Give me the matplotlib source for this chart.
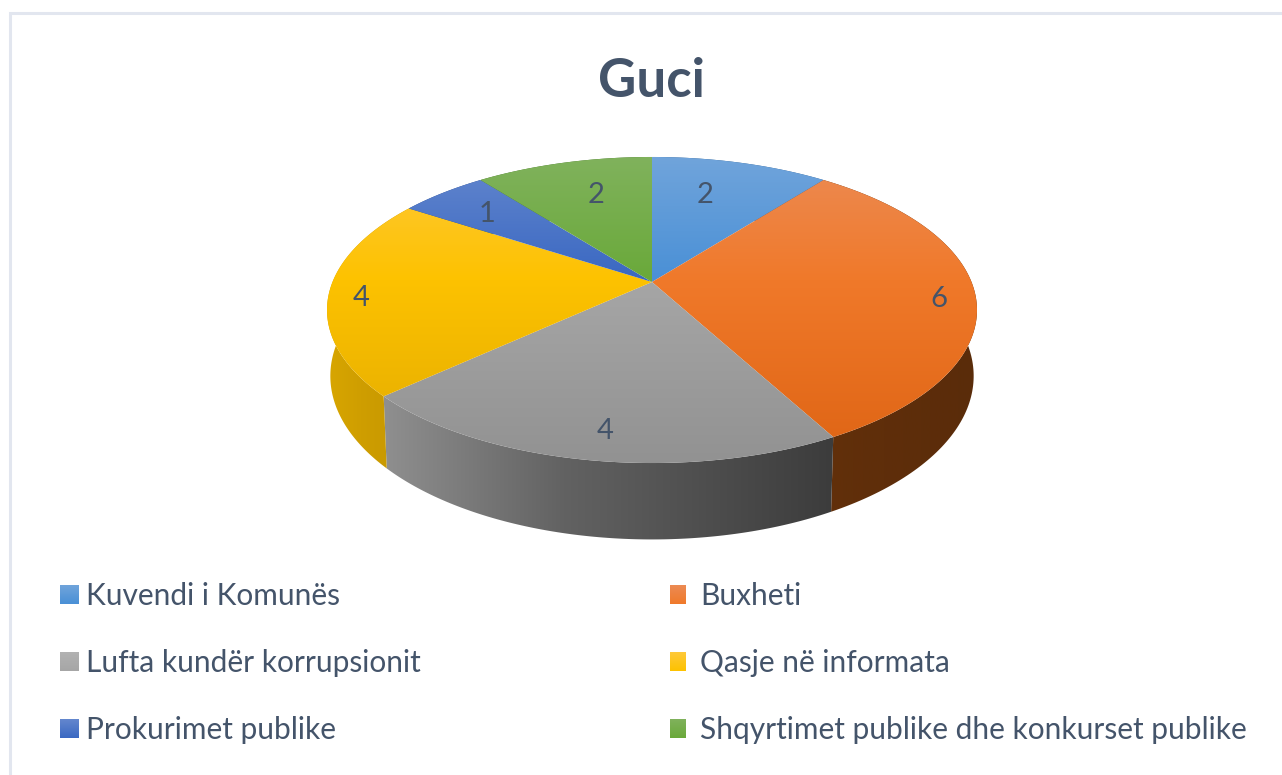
# Guci - 3D pie with perspective, drawn on an axes in pixel coordinates
import matplotlib
matplotlib.use("Agg")
import matplotlib.pyplot as plt
import numpy as np
from matplotlib.patches import Polygon

categories = ["Kuvendi i Komunës", "Buxheti", "Lufta kundër korrupsionit",
              "Qasje në informata", "Prokurimet publike",
              "Shqyrtimet publike dhe konkurset publike"]
values = [2, 6, 4, 4, 1, 2]

# top of slice: light / mid / dark, side of slice: left / mid / right
top_light = ["#70a4db", "#ec8b54", "#b2b2b2", "#ffc93a", "#6487ce", "#80b25c"]
top_mid = ["#4a90d6", "#f0792a", "#a6a6a6", "#fdc200", "#3a68c2", "#6aa93a"]
top_dark = ["#3f80c0", "#de6414", "#929292", "#e2ab00", "#3058a8", "#5a9430"]
side_left = ["#2f5f90", "#62300a", "#8f8f8f", "#d8a600", "#2a4a88", "#44702a"]
side_mid = ["#2f5f90", "#5f2e0a", "#626262", "#cf9e00", "#2a4a88", "#44702a"]
side_right = ["#2f5f90", "#5a2c0a", "#3c3c3c", "#c49600", "#2a4a88", "#44702a"]

label_r = [0.715, 0.89, 0.85, 0.90, 0.767, 0.715]
label_dx = [-13, 0, 6, 0, 0, 10]
label_dy = [2, 6, 3, 5, 2, 2]
text_col = "#44546a"

# perspective of the disc
cx, cy = 652, 282
R, B = 319.5, 147.9
k = 0.183
drop, m = 65, 0.01


def project(a, r=1.0, z=0.0):
    u = r * np.sin(a)
    v = r * np.cos(a)
    w = 1 + k * v + m * z
    return cx + R * u / w, cy + (-B * v + drop * z) / w


def hexrgb(c):
    return np.array(matplotlib.colors.to_rgb(c))


def fill_gradient(ax, pts, stops, horizontal=False, span=None):
    # paint a gradient image and clip it to the polygon
    pts = np.asarray(pts, dtype=float)
    poly = Polygon(pts, closed=True, fc="none", ec="none", transform=ax.transData)
    ax.add_patch(poly)
    lo, hi = span if span else (pts[:, 0].min(), pts[:, 0].max())
    t = np.linspace(0, 1, 256)
    pos = np.linspace(0, 1, len(stops)) if len(stops) != 3 else np.array([0, 0.4, 1])
    rgb = np.array([hexrgb(c) for c in stops])
    img = np.stack([np.interp(t, pos, rgb[:, i]) for i in range(3)], axis=-1)
    if horizontal:
        img = img[np.newaxis, :, :]
        extent = (lo, hi, 775, 0)
    else:
        img = img[:, np.newaxis, :]
        extent = (0, 1282, hi, lo)
    im = ax.imshow(img, extent=extent, aspect="auto", interpolation="bilinear", zorder=poly.get_zorder())
    im.set_clip_path(poly)


fig = plt.figure(figsize=(12.82, 7.75), dpi=100)
ax = fig.add_axes([0, 0, 1, 1])
ax.axis("off")

# frame round the chart, it runs off the right and bottom of the shot
ax.plot([1282, 9.5, 9.5], [13, 13, 775], color="#e2e6ef", lw=2.2, solid_joinstyle="miter")

edges = np.cumsum([0] + values) / sum(values) * 2 * np.pi

# sides first, the top disc covers what is behind
for i in range(len(values)):
    a = np.linspace(edges[i], edges[i + 1], 120)
    upper = np.column_stack(project(a))
    lower = np.column_stack(project(a, z=1))
    fill_gradient(ax, np.vstack([upper, lower[::-1]]), [side_left[i], side_mid[i], side_right[i]],
                  horizontal=True)

for i in range(len(values)):
    a = np.linspace(edges[i], edges[i + 1], 120)
    arc = np.column_stack(project(a))
    fill_gradient(ax, np.vstack([[cx, cy], arc]), [top_light[i], top_mid[i], top_dark[i]],
                  span=(157, 463))

# data labels
for i, val in enumerate(values):
    mid = (edges[i] + edges[i + 1]) / 2
    x, y = project(mid, r=label_r[i])
    ax.text(x + label_dx[i], y + label_dy[i], str(val), fontsize=21, color=text_col, family="Lato",
            ha="center", va="center")

ax.text(652, 97, "Guci", fontsize=38, fontweight="bold", color=text_col, family="Lato",
        ha="center", va="baseline")

# legend, two columns
swatch_x = [60, 670]
swatch_w = [19, 16]
text_x = [86, 700]
row_base = [604, 671, 738]
for i, name in enumerate(categories):
    col = i % 2
    base = row_base[i // 2]
    x0, x1 = swatch_x[col], swatch_x[col] + swatch_w[col]
    fill_gradient(ax, [(x0, base - 19), (x1, base - 19), (x1, base), (x0, base)],
                  [top_light[i], top_mid[i]], span=(base - 19, base))
    ax.text(text_x[col], base + 1, name, fontsize=21.5, color=text_col, family="Lato",
            ha="left", va="baseline")

ax.set_xlim(0, 1282)
ax.set_ylim(775, 0)
fig.savefig("out.png", dpi=100, facecolor="white")
